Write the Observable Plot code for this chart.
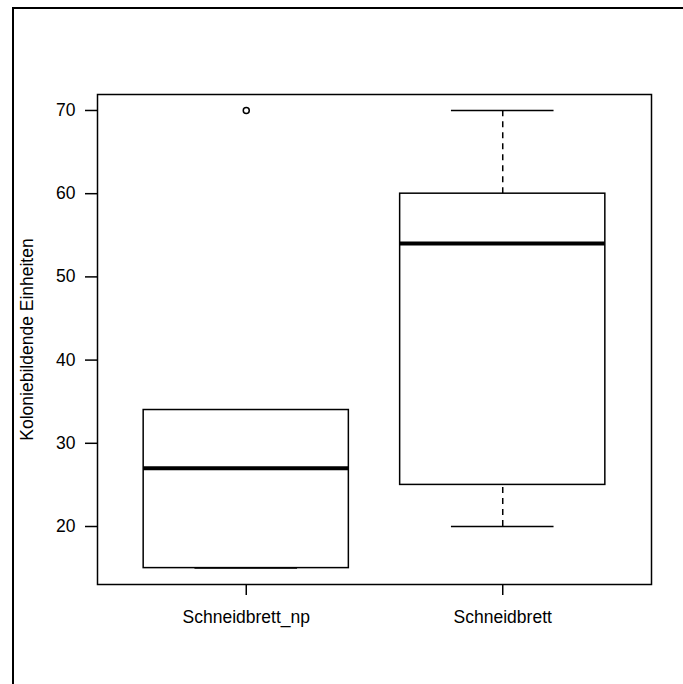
<!DOCTYPE html>
<html>
<head>
<meta charset="utf-8">
<script src="https://cdn.jsdelivr.net/npm/d3@7"></script>
<script src="https://cdn.jsdelivr.net/npm/@observablehq/plot@0.6"></script>
<style>
  html, body { margin: 0; padding: 0; background: #fff; }
  #wrap { position: relative; width: 683px; height: 684px; overflow: hidden; }
  #chart { position: absolute; left: 0; top: 0; }
  #edge { position: absolute; left: 12px; top: 7px; width: 800px; height: 800px;
          border-top: 2px solid #000; border-left: 2px solid #000; pointer-events: none; }
</style>
</head>
<body>
<div id="wrap"><div id="chart"></div><div id="edge"></div></div>
<script>
const groups  = ["Schneidbrett_np", "Schneidbrett"];
const lowerWhisker = [15, 20];
const q1      = [15, 25];
const medians = [27, 54];
const q3      = [34, 60];
const upperWhisker = [34, 70];
const outlierGroups = ["Schneidbrett_np"];
const outlierValues = [70];
const yTicks = [20, 30, 40, 50, 60, 70];
const yLabel = "Koloniebildende Einheiten";

const halfBox = 0.4, halfCap = 0.2;
const boxes = groups.map((g, i) => ({
  pos: i + 1, lo: lowerWhisker[i], q1: q1[i], med: medians[i], q3: q3[i], hi: upperWhisker[i]
}));
const outliers = outlierGroups.map((g, i) => ({pos: groups.indexOf(g) + 1, value: outlierValues[i]}));

const font = "'Liberation Sans', Arial, sans-serif";
const fs = 17.5;
const chart = Plot.plot({
  width: 683, height: 684,
  marginLeft: 97, marginRight: 32, marginTop: 94, marginBottom: 100,
  style: {fontFamily: font, fontSize: fs + "px", color: "#000", background: "transparent"},
  x: {type: "linear", domain: [0.42, 2.58]},
  y: {type: "linear", domain: [13.03, 71.92]},
  marks: [
    Plot.axisY({ticks: yTicks, tickSize: 12, tickPadding: 10, strokeWidth: 1.5, fontSize: fs,
      label: yLabel, labelAnchor: "center", labelArrow: "none", labelOffset: 77}),
    Plot.axisX({ticks: [1, 2], tickFormat: d => groups[d - 1], tickSize: 11, tickPadding: 15,
      strokeWidth: 1.5, fontSize: fs, label: null}),
    Plot.ruleX(boxes, {x: "pos", y1: "q3", y2: "hi", stroke: "#000", strokeWidth: 1.5, strokeDasharray: "6,5"}),
    Plot.ruleX(boxes, {x: "pos", y1: "lo", y2: "q1", stroke: "#000", strokeWidth: 1.5, strokeDasharray: "6,5"}),
    Plot.ruleY(boxes, {y: "hi", x1: d => d.pos - halfCap, x2: d => d.pos + halfCap, stroke: "#000", strokeWidth: 1.5}),
    Plot.ruleY(boxes, {y: "lo", x1: d => d.pos - halfCap, x2: d => d.pos + halfCap, stroke: "#000", strokeWidth: 1.5}),
    Plot.rect(boxes, {x1: d => d.pos - halfBox, x2: d => d.pos + halfBox, y1: "q1", y2: "q3",
      fill: "#fff", stroke: "#000", strokeWidth: 1.5}),
    Plot.ruleY(boxes, {y: "med", x1: d => d.pos - halfBox, x2: d => d.pos + halfBox, stroke: "#000", strokeWidth: 4}),
    Plot.dot(outliers, {x: "pos", y: "value", r: 3, stroke: "#000", strokeWidth: 1.5, fill: "none"}),
    Plot.frame({stroke: "#000", strokeWidth: 1.5})
  ]
});
document.getElementById("chart").appendChild(chart);
</script>
</body>
</html>
